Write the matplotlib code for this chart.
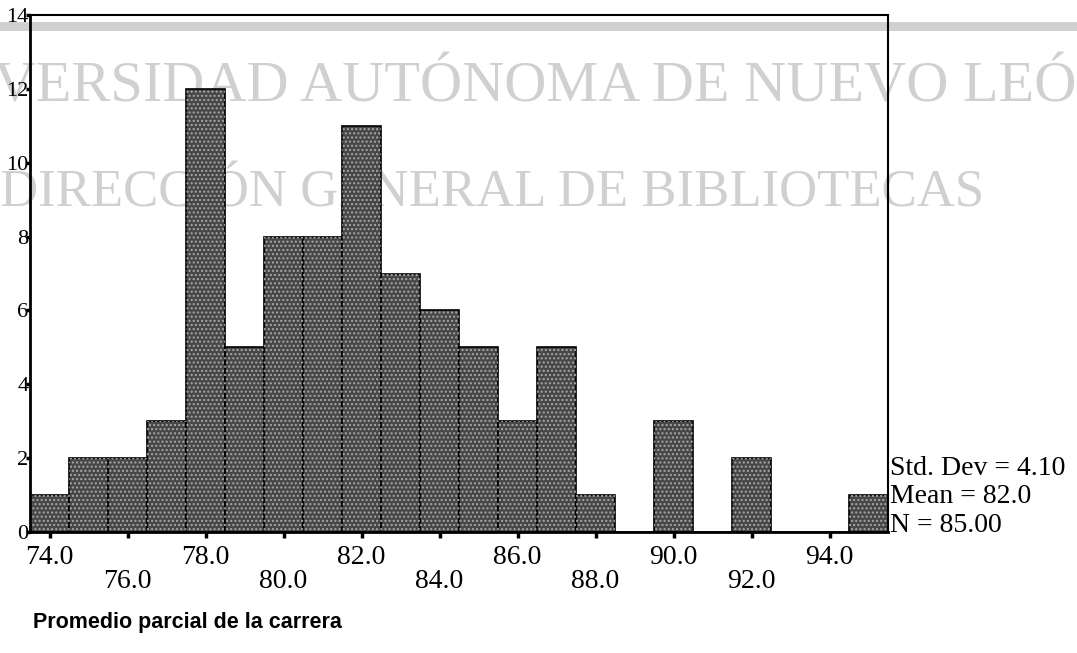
import numpy as np
import matplotlib.pyplot as plt
from matplotlib.patches import Rectangle

# frecuencias por intervalo de 1 punto (centro del intervalo)
centros = [74, 75, 76, 77, 78, 79, 80, 81, 82, 83, 84, 85, 86, 87, 88, 89, 90, 91, 92, 93, 94, 95]
frecuencias = [1, 2, 2, 3, 12, 5, 8, 8, 11, 7, 6, 5, 3, 5, 1, 0, 3, 0, 2, 0, 0, 1]

ticks_arriba = [74, 78, 82, 86, 90, 94]
ticks_abajo = [76, 80, 84, 88, 92]
ticks_y = [0, 2, 4, 6, 8, 10, 12, 14]

estadisticos = ["Std. Dev = 4.10", "Mean = 82.0", "N = 85.00"]
titulo_x = "Promedio parcial de la carrera"
sello = ["UNIVERSIDAD AUTÓNOMA DE NUEVO LEÓN", "DIRECCIÓN GENERAL DE BIBLIOTECAS"]

W, H = 1077, 653
fig = plt.figure(figsize=(W / 100, H / 100), dpi=100)
serif = "Liberation Serif"

def fx(px):
    return px / W

def fy(py):
    return 1 - py / H

ax = fig.add_axes([fx(30), fy(532), fx(888) - fx(30), fy(15) - fy(532)])
ax.set_facecolor("none")

# barras del histograma con trama de puntos
ax.bar(centros, frecuencias, width=1.0, color="#474747", edgecolor="black", linewidth=1.2, zorder=2)
ax.bar(centros, frecuencias, width=1.0, fill=False, hatch="....", edgecolor="#a8a8a8", linewidth=0, zorder=2.1)

ax.set_xlim(73.5, 95.5)
ax.set_ylim(0, 14)

ax.set_xticks(ticks_arriba)
ax.set_xticklabels([f"{v:.1f}" for v in ticks_arriba])
ax.set_xticks(ticks_abajo, minor=True)
ax.set_xticklabels([f"{v:.1f}" for v in ticks_abajo], minor=True)
ax.tick_params(axis="x", which="major", length=4, width=2.5, pad=5, labelsize=20)
ax.tick_params(axis="x", which="minor", length=4, width=2.5, pad=23, labelsize=20)
for lab in ax.get_xticklabels(which="both"):
    lab.set_family(serif)

ax.set_yticks(ticks_y)
ax.set_yticklabels([str(v) for v in ticks_y])
ax.tick_params(axis="y", length=3, width=2.5, pad=-2, labelsize=16)
for lab in ax.get_yticklabels():
    lab.set_family(serif)

for s in ["left", "bottom"]:
    ax.spines[s].set_linewidth(2)
for s in ["top", "right"]:
    ax.spines[s].set_linewidth(1.5)
for s in ax.spines.values():
    s.set_zorder(3)

# franja gris superior y sello de agua
fig.add_artist(Rectangle((0, fy(31)), 1, fy(22) - fy(31), transform=fig.transFigure,
                         facecolor="#d0d0d0", edgecolor="none", zorder=-2))
fig.text(fx(-110), fy(102), sello[0], family=serif, fontsize=42, color="#d0d0d0",
         ha="left", va="baseline", zorder=-1)
fig.text(fx(0), fy(207), sello[1], family=serif, fontsize=38, color="#d0d0d0",
         ha="left", va="baseline", zorder=-1)

# estadisticos a la derecha
for texto, base in zip(estadisticos, [475, 503, 532]):
    fig.text(fx(890), fy(base), texto, family=serif, fontsize=20, ha="left", va="baseline")

fig.text(fx(33), fy(628), titulo_x, family="Liberation Sans",
         fontweight="bold", fontsize=15.5, ha="left", va="baseline")

fig.savefig("out.png", dpi=100)
